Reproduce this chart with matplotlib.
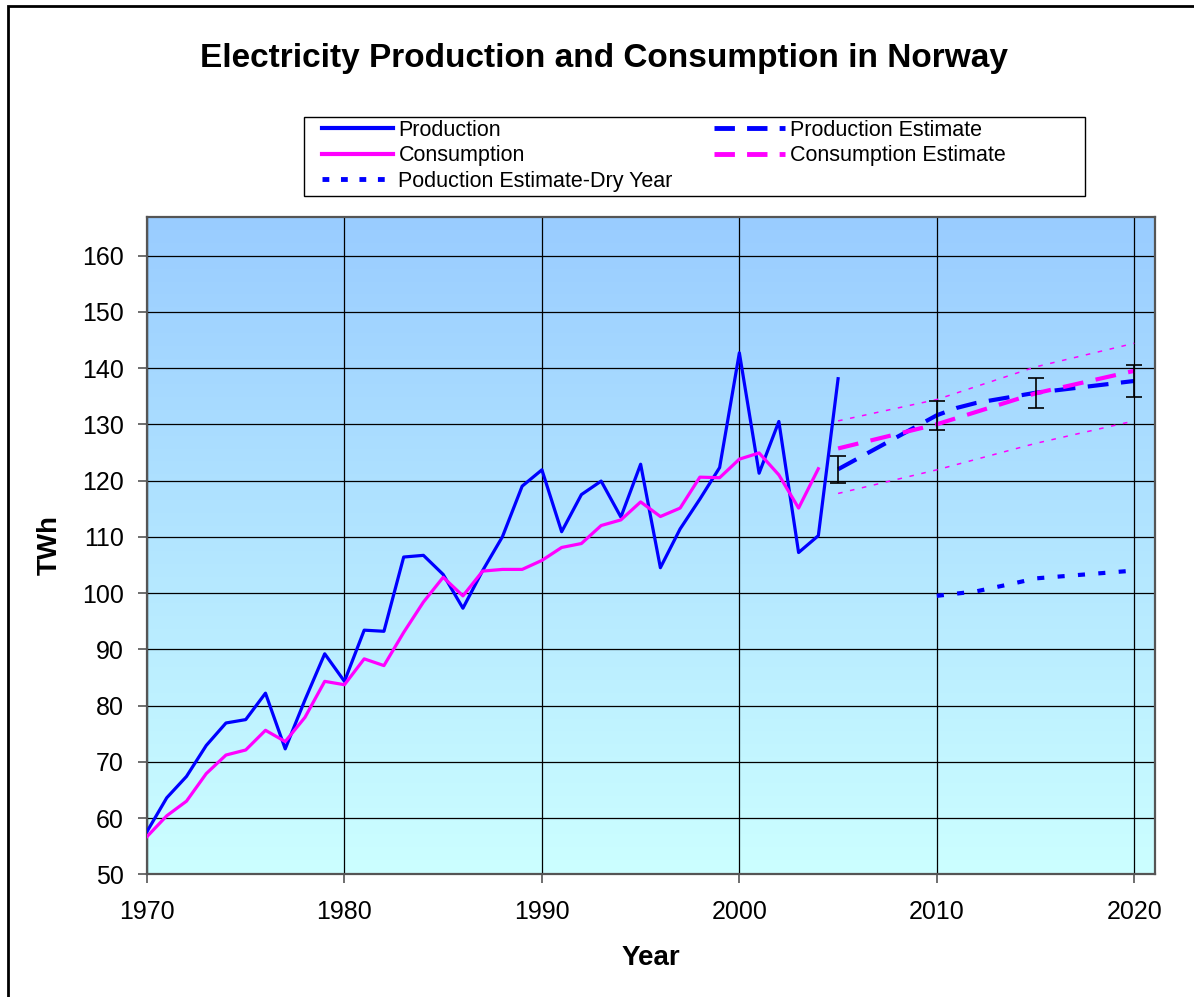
import numpy as np
import matplotlib
matplotlib.use('Agg')
import matplotlib.pyplot as plt
from matplotlib.patches import Rectangle
from matplotlib.lines import Line2D

plt.rcParams['font.family'] = ['Liberation Sans', 'DejaVu Sans']

# historical data
years_prod = list(range(1970, 2006))
production = [57.6, 63.6, 67.4, 72.9, 76.9, 77.5, 82.2, 72.3, 81.0, 89.2,
              84.3, 93.4, 93.2, 106.4, 106.7, 103.3, 97.3, 104.0, 110.0, 119.0,
              121.9, 110.9, 117.5, 119.9, 113.5, 122.9, 104.5, 111.4, 116.7, 122.3,
              142.7, 121.3, 130.5, 107.2, 110.2, 138.1]
years_cons = list(range(1970, 2005))
consumption = [56.7, 60.4, 63.0, 67.9, 71.2, 72.1, 75.6, 73.6, 77.9, 84.3,
               83.7, 88.3, 87.1, 93.0, 98.4, 102.8, 99.5, 103.9, 104.2, 104.2,
               105.8, 108.1, 108.8, 112.0, 113.0, 116.2, 113.6, 115.1, 120.6, 120.5,
               123.8, 124.9, 121.0, 115.1, 122.1]

# estimates
years_prod_est = [2005, 2010, 2011, 2012, 2013, 2015, 2020]
prod_est = [122.0, 131.6, 132.9, 133.8, 134.4, 135.6, 137.7]
years_err = [2005, 2010, 2015, 2020]
err_center = [122.0, 131.6, 135.6, 137.7]
err_size = [2.4, 2.6, 2.7, 2.9]

years_cons_est = [2005, 2010, 2015, 2020]
cons_est = [125.7, 130.0, 135.5, 139.5]
cons_upper = [130.6, 134.4, 140.2, 144.4]
cons_lower = [117.7, 121.9, 126.6, 130.6]

years_dry = [2010, 2012, 2014, 2015, 2020]
dry_est = [99.5, 100.3, 101.8, 102.6, 104.0]

fig = plt.figure(figsize=(11.94, 9.97), dpi=100)
ax = fig.add_axes([147/1194, 1 - 874.3/997, 1008/1194, 657.6/997])

# gradient background
grad = np.linspace(0, 1, 256).reshape(-1, 1)
cmap = matplotlib.colors.LinearSegmentedColormap.from_list('bg', ['#CCFFFF', '#99CCFF'])
ax.imshow(grad, aspect='auto', cmap=cmap, extent=[0, 1, 0, 1],
          transform=ax.transAxes, origin='lower', zorder=0)

ax.set_xlim(1970, 2021.05)
ax.set_ylim(50, 166.9)
ax.set_xticks(range(1970, 2021, 10))
ax.set_yticks(range(50, 161, 10))
ax.grid(True, color='black', linewidth=0.9, zorder=1)
ax.set_axisbelow(True)
for s in ax.spines.values():
    s.set_color('#555555')
    s.set_linewidth(1.6)
ax.tick_params(direction='out', length=6.5, width=1.2, color='#555555',
               labelsize=18, pad=10)
ax.tick_params(axis='x', pad=12)

blue = '#0000FF'
mag = '#FF00FF'
ax.plot(years_prod, production, color=blue, lw=2.3, zorder=4)
ax.plot(years_cons, consumption, color=mag, lw=2.3, zorder=4)
ax.plot(years_cons_est, cons_upper, color=mag, lw=1.1, dashes=(3, 5), zorder=3)
ax.plot(years_cons_est, cons_lower, color=mag, lw=1.1, dashes=(3, 5), zorder=3)
ax.plot(years_prod_est, prod_est, color=blue, lw=3, dashes=(5, 3), zorder=4)
ax.plot(years_cons_est, cons_est, color=mag, lw=3, dashes=(5, 3), zorder=4)
ax.plot(years_dry, dry_est, color=blue, lw=3, dashes=(1.7, 3.2), zorder=4)
ax.errorbar(years_err, err_center, yerr=err_size, fmt='none', ecolor='black',
            elinewidth=1.2, capsize=6, capthick=1.2, zorder=5)

fig.text(0.506, 1 - 59/997, 'Electricity Production and Consumption in Norway',
         ha='center', va='center', fontsize=24, fontweight='bold')
fig.text(50/1194, 1 - 545/997, 'TWh', rotation=90, ha='center', va='center',
         fontsize=20, fontweight='bold')
fig.text(651/1194, 1 - 958/997, 'Year', ha='center', va='center',
         fontsize=20, fontweight='bold')

# legend box and entries
fig.patches.append(Rectangle((304/1194, 1 - 196/997), 781/1194, 79.3/997,
                             transform=fig.transFigure, fill=False,
                             edgecolor='black', linewidth=1))
handles = [Line2D([], [], color=blue, lw=3),
           Line2D([], [], color=mag, lw=3),
           Line2D([], [], color=blue, lw=3.5, dashes=(1.4, 2.4)),
           Line2D([], [], color=blue, lw=3.5, dashes=(4.2, 2.5)),
           Line2D([], [], color=mag, lw=3.5, dashes=(4.2, 2.5))]
fig.legend(handles,
           ['Production', 'Consumption', 'Poduction Estimate-Dry Year',
            'Production Estimate', 'Consumption Estimate'],
           ncol=2, loc='upper left', bbox_to_anchor=(322/1194, 1 - 120/997),
           frameon=False, fontsize=15.5, borderpad=0, borderaxespad=0,
           handlelength=3.3, handletextpad=0.25, columnspacing=1.9,
           labelspacing=0.2)

# outer border
fig.patches.append(Rectangle((8/1194, -0.1), 1.2, 1.1 - 6/997,
                             transform=fig.transFigure, fill=False,
                             edgecolor='black', linewidth=2))

fig.savefig('out.png', dpi=100)
